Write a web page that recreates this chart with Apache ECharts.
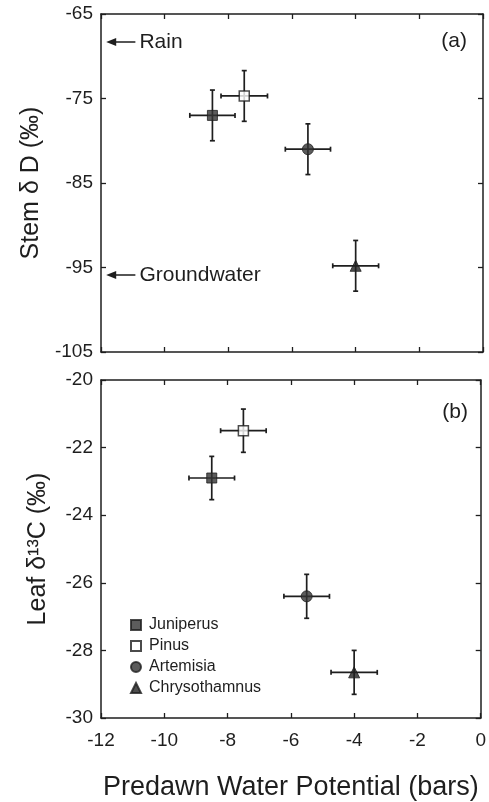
<!DOCTYPE html>
<html>
<head>
<meta charset="utf-8">
<script src="https://cdn.jsdelivr.net/npm/echarts@6/dist/echarts.min.js"></script>
<style>html,body{margin:0;padding:0;background:#fff}#c{width:489px;height:802px}</style>
</head>
<body>
<div id="c"></div>
<script>
// ---- data ----
const species = ['Juniperus', 'Pinus', 'Artemisia', 'Chrysothamnus'];
const psi = [-8.5, -7.5, -5.5, -4.0];            // predawn water potential (bars)
const psiErrA = [0.71, 0.73, 0.71, 0.72];
const psiErrB = [0.72, 0.72, 0.72, 0.73];
const stemDD = [-77.0, -74.7, -81.0, -94.8];     // stem deltaD (permil)
const stemDDErr = [3.0, 3.0, 3.0, 3.0];
const leafC13 = [-22.9, -21.5, -26.4, -28.65];   // leaf delta13C (permil)
const leafC13Err = [0.64, 0.64, 0.65, 0.65];
const rainDD = -68.3;
const groundwaterDD = -95.9;
const xTicks = [-12, -10, -8, -6, -4, -2, 0];
const yTicksA = [-105, -95, -85, -75, -65];
const yTicksB = [-30, -28, -26, -24, -22, -20];

// ---- styles ----
const FONT = '"Liberation Sans", Arial, Helvetica, sans-serif';
const INK = '#1e1e1e';
const symbols = {
  Juniperus: {symbol: 'rect', size: 10, itemStyle: {color: '#333', borderColor: '#1e1e1e', borderWidth: 1}},
  Pinus: {symbol: 'rect', size: 10, itemStyle: {color: '#fff', borderColor: '#1e1e1e', borderWidth: 1.5}},
  Artemisia: {symbol: 'circle', size: 11, itemStyle: {color: '#333', borderColor: '#1e1e1e', borderWidth: 1}},
  Chrysothamnus: {symbol: 'triangle', size: 11, itemStyle: {color: '#222', borderColor: '#1e1e1e', borderWidth: 1}}
};

function errRender(params, api) {
  const x = api.value(0), y = api.value(1), ex = api.value(2), ey = api.value(3);
  const l = api.coord([x - ex, y]), r = api.coord([x + ex, y]);
  const t = api.coord([x, y + ey]), b = api.coord([x, y - ey]);
  const cap = 2.5;
  const style = {stroke: INK, lineWidth: 1.7};
  const ln = (x1, y1, x2, y2) => ({type: 'line', shape: {x1, y1, x2, y2}, style});
  return {type: 'group', children: [
    ln(l[0], l[1], r[0], r[1]),
    ln(l[0], l[1] - cap, l[0], l[1] + cap),
    ln(r[0], r[1] - cap, r[0], r[1] + cap),
    ln(t[0], t[1], b[0], b[1]),
    ln(t[0] - cap, t[1], t[0] + cap, t[1]),
    ln(b[0] - cap, b[1], b[0] + cap, b[1])
  ]};
}

function xAx(gi, pos, showLabel) {
  return {
    type: 'value', gridIndex: gi, position: pos, min: -12, max: 0, interval: 2,
    axisLine: {show: true, onZero: false, lineStyle: {color: INK, width: 1.5}},
    axisTick: {show: true, inside: true, length: 5, lineStyle: {color: INK, width: 1.3}},
    axisLabel: {show: showLabel, color: INK, fontFamily: FONT, fontSize: 19, margin: 13},
    splitLine: {show: false}
  };
}
function yAx(gi, pos, min, max, interval, showLabel, name, gap) {
  return {
    type: 'value', gridIndex: gi, position: pos, min, max, interval,
    name: name || '', nameLocation: 'middle', nameRotate: 90, nameGap: gap || 0,
    nameTextStyle: {color: INK, fontFamily: FONT, fontSize: 25},
    axisLine: {show: true, onZero: false, lineStyle: {color: INK, width: 1.5}},
    axisTick: {show: true, inside: true, length: 5, lineStyle: {color: INK, width: 1.3}},
    axisLabel: {show: showLabel, color: INK, fontFamily: FONT, fontSize: 19, margin: 8},
    splitLine: {show: false}
  };
}

const series = [];
// error bars
series.push({
  type: 'custom', name: 'errA', xAxisIndex: 0, yAxisIndex: 0, renderItem: errRender,
  encode: {x: 0, y: 1}, z: 1, silent: true,
  data: species.map((s, i) => [psi[i], stemDD[i], psiErrA[i], stemDDErr[i]])
});
series.push({
  type: 'custom', name: 'errB', xAxisIndex: 2, yAxisIndex: 2, renderItem: errRender,
  encode: {x: 0, y: 1}, z: 1, silent: true,
  data: species.map((s, i) => [psi[i], leafC13[i], psiErrB[i], leafC13Err[i]])
});
species.forEach((s, i) => {
  const st = symbols[s];
  series.push({type: 'scatter', name: s, xAxisIndex: 0, yAxisIndex: 0, z: 3,
    symbol: st.symbol, symbolSize: st.size, itemStyle: st.itemStyle, data: [[psi[i], stemDD[i]]]});
  series.push({type: 'scatter', name: s, xAxisIndex: 2, yAxisIndex: 2, z: 3,
    symbol: st.symbol, symbolSize: st.size, itemStyle: st.itemStyle, data: [[psi[i], leafC13[i]]]});
});
// source arrows (Rain, Groundwater)
const arrowLabel = {show: true, position: 'start', distance: 4, color: INK, fontFamily: FONT, fontSize: 21};
series.push({
  type: 'line', name: 'sources', xAxisIndex: 0, yAxisIndex: 0, data: [], silent: true,
  markLine: {
    silent: true, animation: false, symbol: ['none', 'triangle'], symbolSize: [8, 10],
    lineStyle: {type: 'solid', color: INK, width: 1.5},
    data: [
      [{coord: [-10.92, rainDD], label: Object.assign({formatter: 'Rain'}, arrowLabel)}, {coord: [-11.68, rainDD]}],
      [{coord: [-10.92, groundwaterDD], label: Object.assign({formatter: 'Groundwater'}, arrowLabel)}, {coord: [-11.68, groundwaterDD]}]
    ]
  }
});

const option = {
  backgroundColor: '#fff',
  animation: false,
  textStyle: {fontFamily: FONT},
  grid: [
    {left: 101, right: 6, top: 14, height: 338},
    {left: 101, right: 6, top: 380, height: 340}
  ],
  xAxis: [
    xAx(0, 'bottom', false), xAx(0, 'top', false),
    Object.assign(xAx(1, 'bottom', true), {name: 'Predawn Water Potential (bars)', nameLocation: 'middle', nameGap: 56,
      nameTextStyle: {color: INK, fontFamily: FONT, fontSize: 27}}),
    xAx(1, 'top', false)
  ],
  yAxis: [
    yAx(0, 'left', -105, -65, 10, true, 'Stem δ D (‰)', 56),
    yAx(0, 'right', -105, -65, 10, false),
    yAx(1, 'left', -30, -20, 2, true, 'Leaf δ¹³C (‰)', 50),
    yAx(1, 'right', -30, -20, 2, false)
  ],
  legend: {
    data: species, orient: 'vertical', left: 125, top: 612,
    itemWidth: 10, itemHeight: 10, itemGap: 5, selectedMode: false,
    textStyle: {color: INK, fontFamily: FONT, fontSize: 16, lineHeight: 16, padding: [0, 0, 0, 3]}
  },
  graphic: [
    {type: 'text', right: 22, top: 31, style: {text: '(a)', fill: INK, font: '21px ' + FONT}},
    {type: 'text', right: 21, top: 402, style: {text: '(b)', fill: INK, font: '21px ' + FONT}}
  ],
  series
};
const chart = echarts.init(document.getElementById('c'), null, {renderer: 'canvas'});
chart.setOption(option);
</script>
</body>
</html>
